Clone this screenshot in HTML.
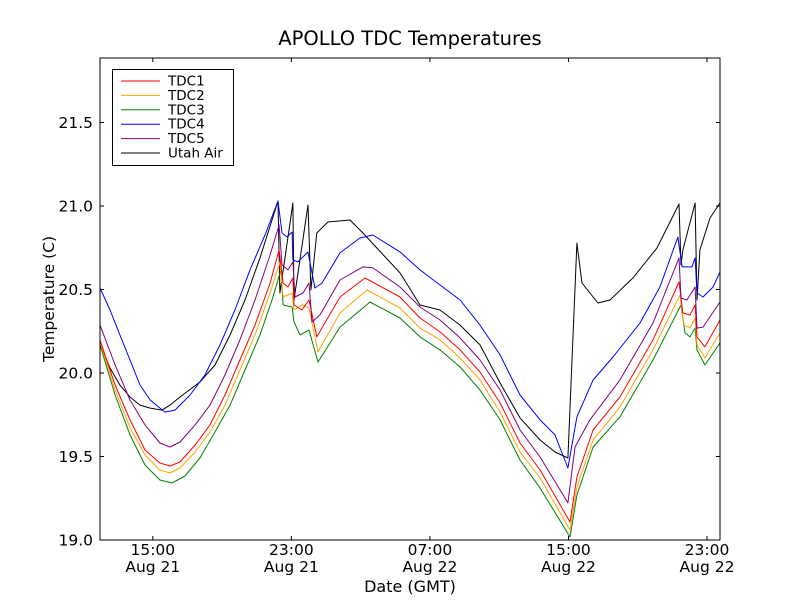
<!DOCTYPE html>
<html><head><meta charset="utf-8"><style>
body{margin:0;background:#fff;}
svg{display:block;font-family:"DejaVu Sans","Liberation Sans",sans-serif;}
</style></head><body>
<svg id="chart" width="800" height="600"></svg>
<script>
const yTicks=[19.0,19.5,20.0,20.5,21.0,21.5];
const xTickHours=[15,23,31,39,47];
const xTickTop=["15:00","23:00","07:00","15:00","23:00"];
const xTickBottom=["Aug 21","Aug 21","Aug 22","Aug 22","Aug 22"];
const seriesNames=["TDC1","TDC2","TDC3","TDC4","TDC5","Utah Air"];
const seriesColors=["red","orange","green","blue","purple","black"];

const tdc1H=[11.95,12.82,13.68,14.55,15.41,15.99,16.57,17.44,18.30,19.17,20.03,20.90,21.77,22.29,22.52,22.80,23.09,23.15,23.61,24.02,24.47,25.81,27.25,29.27,30.43,31.58,32.74,33.89,35.05,36.20,37.36,39.09,39.49,40.42,41.97,43.88,45.38,45.61,46.02,46.31,46.42,46.88,47.75];
const tdc1V=[20.198,19.928,19.719,19.539,19.461,19.443,19.467,19.569,19.689,19.868,20.078,20.287,20.539,20.737,20.539,20.515,20.569,20.407,20.377,20.437,20.216,20.455,20.569,20.455,20.329,20.246,20.138,20.006,19.820,19.581,19.419,19.108,19.377,19.659,19.856,20.198,20.545,20.359,20.347,20.407,20.216,20.156,20.317];
const tdc2H=[11.95,12.82,13.68,14.55,15.41,15.99,16.57,17.44,18.30,19.17,20.03,20.90,21.77,22.34,22.52,23.04,23.15,23.61,24.02,24.54,25.81,27.37,29.27,30.43,31.58,32.74,33.89,35.05,36.20,37.36,39.09,39.49,40.42,41.97,43.88,45.44,45.67,46.02,46.31,46.42,46.88,47.75];
const tdc2V=[20.186,19.898,19.671,19.509,19.419,19.401,19.431,19.527,19.647,19.808,20.018,20.228,20.479,20.665,20.455,20.479,20.377,20.407,20.389,20.126,20.359,20.497,20.389,20.269,20.198,20.090,19.958,19.766,19.527,19.371,19.060,19.317,19.599,19.796,20.138,20.467,20.287,20.269,20.329,20.168,20.090,20.240];
const tdc3H=[11.95,12.82,13.68,14.55,15.41,16.11,16.86,17.72,18.59,19.46,20.32,21.19,21.88,22.40,22.52,23.04,23.15,23.50,24.02,24.54,25.81,27.54,29.27,30.43,31.58,32.74,33.89,35.05,36.20,37.36,39.09,39.49,40.42,41.97,43.88,45.50,45.73,46.02,46.31,46.42,46.88,47.75];
const tdc3V=[20.168,19.868,19.629,19.449,19.359,19.341,19.383,19.491,19.647,19.808,20.018,20.228,20.437,20.617,20.407,20.395,20.305,20.228,20.257,20.066,20.275,20.425,20.329,20.216,20.138,20.036,19.898,19.719,19.479,19.311,19.018,19.269,19.557,19.737,20.078,20.407,20.240,20.216,20.269,20.138,20.048,20.180];
const tdc4H=[11.95,12.53,13.10,13.68,14.26,14.84,15.70,16.28,17.15,18.01,18.88,19.74,20.61,21.48,22.23,22.46,22.75,23.04,23.09,23.38,23.96,24.36,24.77,25.81,26.96,27.71,29.27,30.43,31.58,32.74,33.89,35.05,36.20,37.36,38.22,38.97,39.49,40.42,41.57,43.13,44.28,45.32,45.56,46.13,46.31,46.42,46.77,47.35,47.75];
const tdc4V=[20.509,20.377,20.228,20.078,19.928,19.838,19.766,19.778,19.868,19.988,20.168,20.377,20.617,20.826,21.030,20.838,20.814,20.844,20.677,20.665,20.725,20.509,20.539,20.719,20.808,20.826,20.725,20.617,20.527,20.437,20.287,20.108,19.868,19.719,19.629,19.431,19.737,19.958,20.096,20.299,20.515,20.814,20.635,20.635,20.689,20.479,20.455,20.515,20.605];
const tdc5H=[11.95,12.82,13.68,14.55,15.41,15.99,16.57,17.44,18.30,19.17,20.03,20.90,21.77,22.29,22.46,22.80,23.09,23.21,23.67,24.02,24.19,24.65,25.81,27.13,27.71,29.27,30.43,31.58,32.74,33.89,35.05,36.20,37.36,38.97,39.38,40.24,41.97,43.88,45.38,45.50,45.84,46.31,46.42,46.77,47.75];
const tdc5V=[20.287,20.048,19.838,19.689,19.581,19.557,19.587,19.689,19.808,19.988,20.198,20.437,20.707,20.886,20.647,20.617,20.665,20.455,20.479,20.539,20.305,20.347,20.557,20.635,20.629,20.515,20.395,20.317,20.210,20.078,19.898,19.659,19.497,19.222,19.557,19.719,19.958,20.299,20.689,20.449,20.437,20.515,20.269,20.275,20.425];
const airH=[11.95,12.53,13.10,13.68,14.26,14.84,15.53,15.99,16.57,17.72,18.59,19.46,20.32,21.19,22.23,22.34,23.09,23.15,23.96,24.13,24.47,25.11,26.38,27.13,29.27,30.43,31.58,32.74,33.89,35.05,36.20,37.36,38.22,38.97,39.49,39.78,40.70,41.40,42.72,44.11,45.38,45.50,45.61,46.31,46.42,46.59,47.17,47.75];
const airV=[20.168,20.030,19.928,19.856,19.808,19.790,19.778,19.808,19.856,19.946,20.048,20.228,20.437,20.689,21.030,20.479,21.018,20.437,21.006,20.497,20.838,20.904,20.916,20.838,20.599,20.407,20.377,20.287,20.168,19.940,19.731,19.599,19.527,19.491,20.778,20.539,20.419,20.437,20.569,20.749,21.012,20.647,20.737,21.018,20.437,20.737,20.928,21.018];

const seriesH=[tdc1H,tdc2H,tdc3H,tdc4H,tdc5H,airH];
const seriesV=[tdc1V,tdc2V,tdc3V,tdc4V,tdc5V,airV];

const L=100,R=720,T=58,B=540;
const xMin=11.95,xMax=47.75,yMin=19.0,yMax=21.886;
function xs(h){return L+(h-xMin)/(xMax-xMin)*(R-L);}
function ys(v){return B-(v-yMin)/(yMax-yMin)*(B-T);}
const NS="http://www.w3.org/2000/svg";
const svg=document.getElementById('chart');
function mk(tag,attrs,parent){const e=document.createElementNS(NS,tag);for(const k in attrs)e.setAttribute(k,attrs[k]);(parent||svg).appendChild(e);return e;}

const plot=mk('g',{});


[5,2,1,0,4,3].forEach(i=>{
  const pts=seriesH[i].map((h,j)=>xs(h).toFixed(1)+','+ys(seriesV[i][j]).toFixed(1)).join(' ');
  const p=mk('polyline',{points:pts,fill:'none',stroke:seriesColors[i],'stroke-width':'1','stroke-linejoin':'round'},plot);
  
  
});

const fr=mk('rect',{x:L,y:T,width:R-L,height:B-T,fill:'none',stroke:'#000','stroke-width':'1'});



yTicks.forEach(v=>{
  const y=ys(v);
  mk('line',{x1:L,x2:L+4,y1:y,y2:y,stroke:'#000'});
  mk('line',{x1:R,x2:R-4,y1:y,y2:y,stroke:'#000'});
  const t=mk('text',{x:L-7,y:y+5.5,'text-anchor':'end','font-size':'15.5'});
  t.textContent=v.toFixed(1);
  
  
});
xTickHours.forEach((h,i)=>{
  const x=xs(h);
  mk('line',{x1:x,x2:x,y1:B,y2:B-4,stroke:'#000'});
  mk('line',{x1:x,x2:x,y1:T,y2:T+4,stroke:'#000'});
  const t1=mk('text',{x:x,y:B+15,'text-anchor':'middle','font-size':'15.5'});
  t1.textContent=xTickTop[i];
  
  
  const t2=mk('text',{x:x,y:B+32,'text-anchor':'middle','font-size':'15.5'});
  t2.textContent=xTickBottom[i];
  
  
});

const title=mk('text',{x:410,y:45,'text-anchor':'middle','font-size':'19.5'});
title.textContent='APOLLO TDC Temperatures';


const xl=mk('text',{x:410,y:592,'text-anchor':'middle','font-size':'16'});
xl.textContent='Date (GMT)';


const yl=mk('text',{x:0,y:0,'text-anchor':'middle','font-size':'15.5',transform:'translate(54,299) rotate(-90)'});
yl.textContent='Temperature (C)';



const lg=mk('g',{});


mk('rect',{x:112.5,y:69.5,width:121,height:96,fill:'#fff',stroke:'#000','stroke-width':'1'},lg);
seriesNames.forEach((n,i)=>{
  const y=81+i*14.4;
  const e=mk('g',{},lg);
  
  
  mk('line',{x1:121,x2:160,y1:y,y2:y,stroke:seriesColors[i],'stroke-width':'1'},e);
  const t=mk('text',{x:168,y:y+4.5,'font-size':'13.5'},e);
  t.textContent=n;
});
</script>
</body></html>
